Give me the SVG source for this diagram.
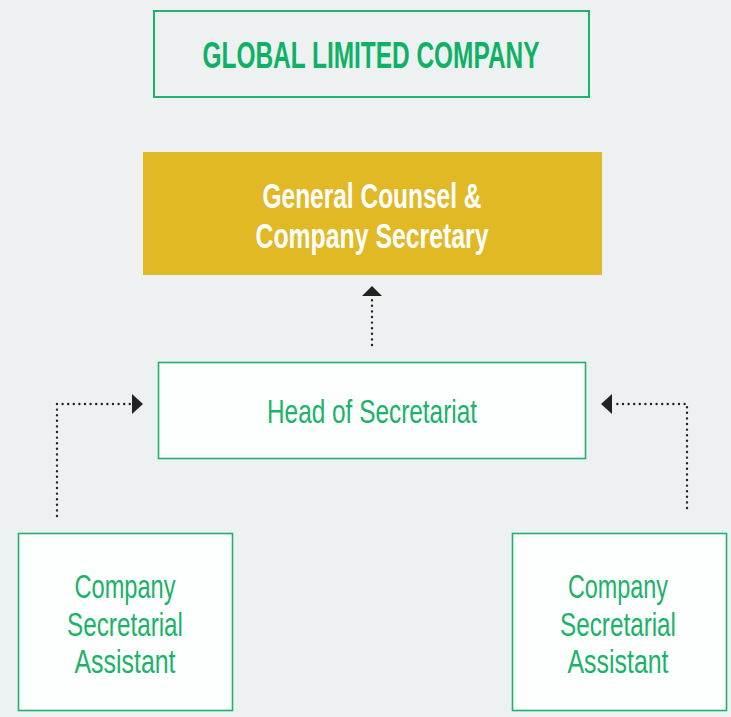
<svg xmlns="http://www.w3.org/2000/svg" width="731" height="717" viewBox="0 0 731 717">
<style>
.bg{fill:#edf1f2}
.box{fill:#fdfefe;stroke:#1db36a;stroke-width:1.6}
.tb{font-family:"Liberation Sans",Arial,sans-serif;font-weight:bold;text-anchor:middle}
.tl{font-family:"Liberation Sans",Arial,sans-serif;fill:#1bb26a;text-anchor:middle;font-size:34px}
.dot{fill:none;stroke:#222;stroke-width:2.4;stroke-linecap:round;stroke-dasharray:0 5.6}
.head{fill:#222}
</style>
<rect class="bg" x="0" y="0" width="731" height="717"/>
<g id="global">
<rect x="154" y="11" width="435" height="86" fill="#edf1f2" stroke="#1db36a" stroke-width="2"/>
<text class="tb" x="371" y="68" font-size="37" fill="#0fb165" textLength="337" lengthAdjust="spacingAndGlyphs">GLOBAL LIMITED COMPANY</text>
</g>
<g id="counsel">
<rect x="143" y="152" width="459" height="123" fill="#e0b924"/>
<text class="tb" x="372" y="208" font-size="35" fill="#ffffff" textLength="219" lengthAdjust="spacingAndGlyphs">General Counsel &amp;</text>
<text class="tb" x="372" y="248" font-size="35" fill="#ffffff" textLength="233" lengthAdjust="spacingAndGlyphs">Company Secretary</text>
</g>
<g id="head">
<rect class="box" x="158.5" y="362.5" width="427" height="96"/>
<text class="tl" x="372" y="423" font-size="30" textLength="210" lengthAdjust="spacingAndGlyphs">Head of Secretariat</text>
</g>
<g id="assistant-left">
<rect class="box" x="18.5" y="533.5" width="214" height="177"/>
<text class="tl" x="125" y="598" textLength="101" lengthAdjust="spacingAndGlyphs">Company</text>
<text class="tl" x="125" y="636" textLength="116" lengthAdjust="spacingAndGlyphs">Secretarial</text>
<text class="tl" x="125" y="673" textLength="101" lengthAdjust="spacingAndGlyphs">Assistant</text>
</g>
<g id="assistant-right">
<rect class="box" x="512.5" y="533.5" width="214" height="177"/>
<text class="tl" x="618" y="598" textLength="100" lengthAdjust="spacingAndGlyphs">Company</text>
<text class="tl" x="618" y="636" textLength="116" lengthAdjust="spacingAndGlyphs">Secretarial</text>
<text class="tl" x="618" y="673" textLength="101" lengthAdjust="spacingAndGlyphs">Assistant</text>
</g>
<g id="connectors">
<path class="dot" d="M372 345 V298"/>
<polygon class="head" points="372,286 362,296 382,296"/>
<path class="dot" d="M57 516 V404 H130"/>
<polygon class="head" points="143,404 132,394 132,414"/>
<path class="dot" d="M687 508 V404 H614"/>
<polygon class="head" points="601,404 612,394 612,414"/>
</g>
</svg>
